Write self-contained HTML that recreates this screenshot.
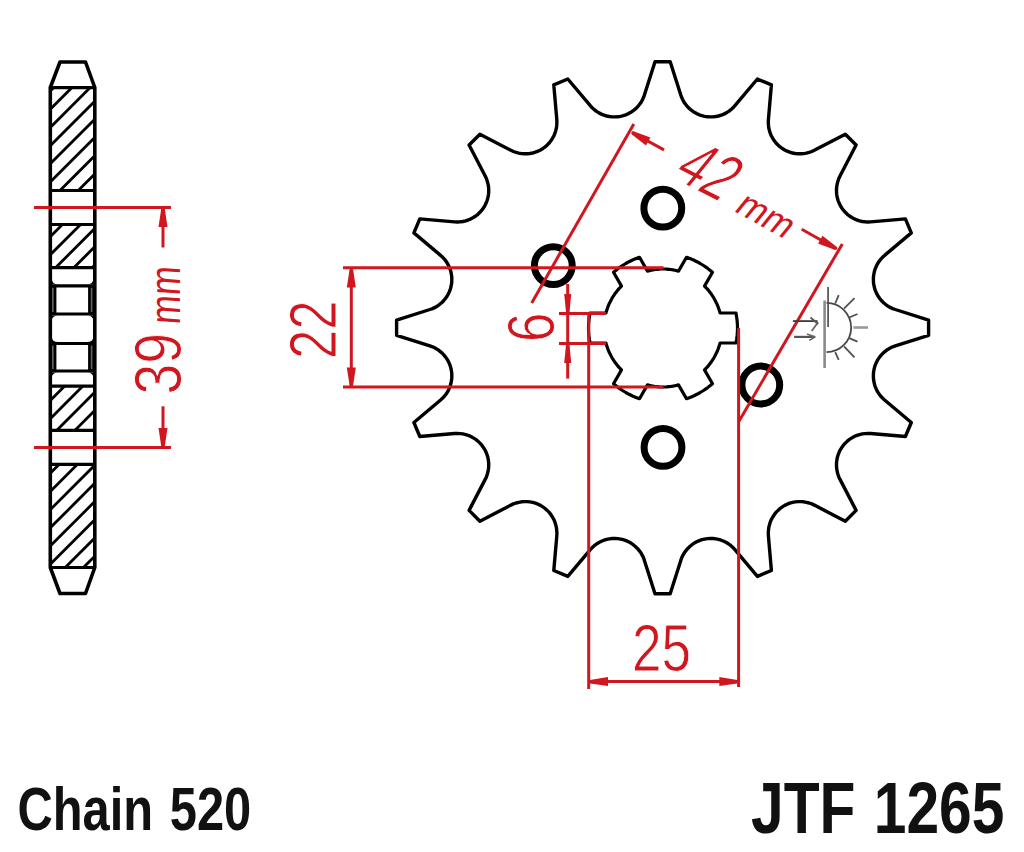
<!DOCTYPE html>
<html><head><meta charset="utf-8"><style>
html,body{margin:0;padding:0;background:#fff;}
svg{display:block;font-family:"Liberation Sans",sans-serif;}
</style></head><body>
<svg width="1024" height="852" viewBox="0 0 1024 852">
<defs><clipPath id="hc0"><rect x="50.3" y="87.6" width="44.5" height="102.9"/></clipPath><clipPath id="hc1"><rect x="50.3" y="224.5" width="44.5" height="43.10000000000002"/></clipPath><clipPath id="hc2"><rect x="50.3" y="386.2" width="44.5" height="44.10000000000002"/></clipPath><clipPath id="hc3"><rect x="50.3" y="464.4" width="44.5" height="103.10000000000002"/></clipPath></defs>
<rect width="1024" height="852" fill="#fff"/>
<path d="M50.3 87.5 L60 62 L85.5 62 L94.8 87.5 L94.8 567.5 L85.5 593.5 L60 593.5 L50.3 567.5 Z" fill="none" stroke="#000" stroke-width="3.6" stroke-linejoin="round"/><line x1="50.3" y1="87.6" x2="94.8" y2="87.6" stroke="#000" stroke-width="3.2"/><line x1="50.3" y1="190.5" x2="94.8" y2="190.5" stroke="#000" stroke-width="3.2"/><line x1="50.3" y1="224.5" x2="94.8" y2="224.5" stroke="#000" stroke-width="3.2"/><line x1="50.3" y1="267.6" x2="94.8" y2="267.6" stroke="#000" stroke-width="3.2"/><line x1="50.3" y1="285.8" x2="94.8" y2="285.8" stroke="#000" stroke-width="3.2"/><line x1="50.3" y1="314" x2="94.8" y2="314" stroke="#000" stroke-width="3.2"/><line x1="50.3" y1="343.5" x2="94.8" y2="343.5" stroke="#000" stroke-width="3.2"/><line x1="50.3" y1="371" x2="94.8" y2="371" stroke="#000" stroke-width="3.2"/><line x1="50.3" y1="386.2" x2="94.8" y2="386.2" stroke="#000" stroke-width="3.2"/><line x1="50.3" y1="430.3" x2="94.8" y2="430.3" stroke="#000" stroke-width="3.2"/><line x1="50.3" y1="464.4" x2="94.8" y2="464.4" stroke="#000" stroke-width="3.2"/><line x1="50.3" y1="567.5" x2="94.8" y2="567.5" stroke="#000" stroke-width="3.2"/><rect x="50.3" y="285.8" width="6.1" height="28.2" fill="#000"/><rect x="88.1" y="285.8" width="6.7" height="28.2" fill="#000"/><line x1="52.8" y1="287.8" x2="52.8" y2="312" stroke="#666" stroke-width="1.6"/><line x1="91.6" y1="287.8" x2="91.6" y2="312" stroke="#666" stroke-width="1.6"/><rect x="50.3" y="343.5" width="6.1" height="27.5" fill="#000"/><rect x="88.1" y="343.5" width="6.7" height="27.5" fill="#000"/><line x1="52.8" y1="345.5" x2="52.8" y2="369" stroke="#666" stroke-width="1.6"/><line x1="91.6" y1="345.5" x2="91.6" y2="369" stroke="#666" stroke-width="1.6"/><g clip-path="url(#hc0)" stroke="#000" stroke-width="2.8"><line x1="45.3" y1="96.0" x2="99.8" y2="41.5"/><line x1="45.3" y1="114.2" x2="99.8" y2="59.7"/><line x1="45.3" y1="132.4" x2="99.8" y2="77.9"/><line x1="45.3" y1="150.6" x2="99.8" y2="96.1"/><line x1="45.3" y1="168.8" x2="99.8" y2="114.3"/><line x1="45.3" y1="187.0" x2="99.8" y2="132.5"/><line x1="45.3" y1="205.2" x2="99.8" y2="150.7"/><line x1="45.3" y1="223.4" x2="99.8" y2="168.9"/><line x1="45.3" y1="241.6" x2="99.8" y2="187.1"/></g><g clip-path="url(#hc1)" stroke="#000" stroke-width="2.8"><line x1="45.3" y1="241.6" x2="99.8" y2="187.1"/><line x1="45.3" y1="259.8" x2="99.8" y2="205.3"/><line x1="45.3" y1="278.0" x2="99.8" y2="223.5"/><line x1="45.3" y1="296.2" x2="99.8" y2="241.7"/><line x1="45.3" y1="314.4" x2="99.8" y2="259.9"/></g><g clip-path="url(#hc2)" stroke="#000" stroke-width="2.8"><line x1="45.3" y1="387.2" x2="99.8" y2="332.7"/><line x1="45.3" y1="405.4" x2="99.8" y2="350.9"/><line x1="45.3" y1="423.6" x2="99.8" y2="369.1"/><line x1="45.3" y1="441.8" x2="99.8" y2="387.3"/><line x1="45.3" y1="460.0" x2="99.8" y2="405.5"/><line x1="45.3" y1="478.2" x2="99.8" y2="423.7"/></g><g clip-path="url(#hc3)" stroke="#000" stroke-width="2.8"><line x1="45.3" y1="478.2" x2="99.8" y2="423.7"/><line x1="45.3" y1="496.4" x2="99.8" y2="441.9"/><line x1="45.3" y1="514.6" x2="99.8" y2="460.1"/><line x1="45.3" y1="532.8" x2="99.8" y2="478.3"/><line x1="45.3" y1="551.0" x2="99.8" y2="496.5"/><line x1="45.3" y1="569.2" x2="99.8" y2="514.7"/><line x1="45.3" y1="587.4" x2="99.8" y2="532.9"/><line x1="45.3" y1="605.6" x2="99.8" y2="551.1"/></g><path d="M51.8 284.3 L58.3 284.3 Q51.8 284.3 51.8 278.8 Z" fill="#000"/><path d="M93.3 284.3 L86.8 284.3 Q93.3 284.3 93.3 278.8 Z" fill="#000"/><path d="M51.8 315.5 L58.3 315.5 Q51.8 315.5 51.8 321.0 Z" fill="#000"/><path d="M93.3 315.5 L86.8 315.5 Q93.3 315.5 93.3 321.0 Z" fill="#000"/><path d="M51.8 342.0 L58.3 342.0 Q51.8 342.0 51.8 336.5 Z" fill="#000"/><path d="M93.3 342.0 L86.8 342.0 Q93.3 342.0 93.3 336.5 Z" fill="#000"/><path d="M51.8 372.5 L58.3 372.5 Q51.8 372.5 51.8 378.0 Z" fill="#000"/><path d="M93.3 372.5 L86.8 372.5 Q93.3 372.5 93.3 378.0 Z" fill="#000"/>
<line x1="34" y1="207.6" x2="171" y2="207.6" stroke="#d0161e" stroke-width="3"/>
<line x1="34" y1="447.6" x2="171" y2="447.6" stroke="#d0161e" stroke-width="3"/>
<line x1="163" y1="207.6" x2="163" y2="247.5" stroke="#d0161e" stroke-width="3"/>
<line x1="163" y1="406.3" x2="163" y2="447.6" stroke="#d0161e" stroke-width="3"/>
<path d="M161.2 209.0 L158.5 227.0 L167.5 227.0 L164.8 209.0 Z" fill="#d0161e"/>
<path d="M164.8 446.0 L167.5 428.0 L158.5 428.0 L161.2 446.0 Z" fill="#d0161e"/>
<text transform="translate(180.5 394.5) rotate(-90) scale(0.84 1)" font-size="66" fill="#d0161e" stroke="#fff" stroke-width="0.9">39</text>
<text transform="translate(180 325) rotate(-90) scale(0.81 1) skewX(-5)" font-size="43" fill="#d0161e">mm</text>
<path d="M655.0 61.7 L670.2 61.7 L680.8 95.0 L681.7 97.6 L682.9 100.1 L684.3 102.6 L686.0 104.8 L687.8 107.0 L689.8 108.9 L692.0 110.7 L694.3 112.3 L696.7 113.6 L699.3 114.8 L701.9 115.7 L704.6 116.3 L707.4 116.8 L710.2 116.9 L713.0 116.9 L715.8 116.5 L718.5 116.0 L721.2 115.2 L723.8 114.1 L726.3 112.9 L728.7 111.4 L730.9 109.7 L733.0 107.8 L734.9 105.7 L757.4 79.0 L771.4 84.9 L768.4 119.6 L768.3 122.4 L768.5 125.2 L768.8 128.0 L769.5 130.7 L770.3 133.4 L771.4 136.0 L772.8 138.4 L774.3 140.8 L776.0 143.0 L778.0 145.0 L780.1 146.9 L782.3 148.5 L784.7 150.0 L787.2 151.2 L789.8 152.2 L792.5 153.0 L795.3 153.5 L798.1 153.8 L800.9 153.8 L803.7 153.6 L806.4 153.1 L809.1 152.4 L811.8 151.5 L814.3 150.3 L845.3 134.2 L856.1 145.0 L840.0 176.0 L838.8 178.5 L837.9 181.2 L837.2 183.9 L836.7 186.6 L836.5 189.4 L836.5 192.2 L836.8 195.0 L837.3 197.8 L838.1 200.5 L839.1 203.1 L840.3 205.6 L841.8 208.0 L843.4 210.2 L845.3 212.3 L847.3 214.3 L849.5 216.0 L851.9 217.5 L854.3 218.9 L856.9 220.0 L859.6 220.8 L862.3 221.5 L865.1 221.8 L867.9 222.0 L870.7 221.9 L905.4 218.9 L911.3 232.9 L884.6 255.4 L882.5 257.3 L880.6 259.4 L878.9 261.6 L877.4 264.0 L876.2 266.5 L875.1 269.1 L874.3 271.8 L873.8 274.5 L873.4 277.3 L873.4 280.1 L873.5 282.9 L874.0 285.7 L874.6 288.4 L875.5 291.0 L876.7 293.6 L878.0 296.0 L879.6 298.3 L881.4 300.5 L883.3 302.5 L885.5 304.3 L887.7 306.0 L890.2 307.4 L892.7 308.6 L895.3 309.5 L928.6 320.1 L928.6 335.3 L895.3 345.9 L892.7 346.8 L890.2 348.0 L887.7 349.4 L885.5 351.1 L883.3 352.9 L881.4 354.9 L879.6 357.1 L878.0 359.4 L876.7 361.8 L875.5 364.4 L874.6 367.0 L874.0 369.7 L873.5 372.5 L873.4 375.3 L873.4 378.1 L873.8 380.9 L874.3 383.6 L875.1 386.3 L876.2 388.9 L877.4 391.4 L878.9 393.8 L880.6 396.0 L882.5 398.1 L884.6 400.0 L911.3 422.5 L905.4 436.5 L870.7 433.5 L867.9 433.4 L865.1 433.6 L862.3 433.9 L859.6 434.6 L856.9 435.4 L854.3 436.5 L851.9 437.9 L849.5 439.4 L847.3 441.1 L845.3 443.1 L843.4 445.2 L841.8 447.4 L840.3 449.8 L839.1 452.3 L838.1 454.9 L837.3 457.6 L836.8 460.4 L836.5 463.2 L836.5 466.0 L836.7 468.8 L837.2 471.5 L837.9 474.2 L838.8 476.9 L840.0 479.4 L856.1 510.4 L845.3 521.2 L814.3 505.1 L811.8 503.9 L809.1 503.0 L806.4 502.3 L803.7 501.8 L800.9 501.6 L798.1 501.6 L795.3 501.9 L792.5 502.4 L789.8 503.2 L787.2 504.2 L784.7 505.4 L782.3 506.9 L780.1 508.5 L778.0 510.4 L776.0 512.4 L774.3 514.6 L772.8 517.0 L771.4 519.4 L770.3 522.0 L769.5 524.7 L768.8 527.4 L768.5 530.2 L768.3 533.0 L768.4 535.8 L771.4 570.5 L757.4 576.4 L734.9 549.7 L733.0 547.6 L730.9 545.7 L728.7 544.0 L726.3 542.5 L723.8 541.3 L721.2 540.2 L718.5 539.4 L715.8 538.9 L713.0 538.5 L710.2 538.5 L707.4 538.6 L704.6 539.1 L701.9 539.7 L699.3 540.6 L696.7 541.8 L694.3 543.1 L692.0 544.7 L689.8 546.5 L687.8 548.4 L686.0 550.6 L684.3 552.8 L682.9 555.3 L681.7 557.8 L680.8 560.4 L670.2 593.7 L655.0 593.7 L644.4 560.4 L643.5 557.8 L642.3 555.3 L640.9 552.8 L639.2 550.6 L637.4 548.4 L635.4 546.5 L633.2 544.7 L630.9 543.1 L628.5 541.8 L625.9 540.6 L623.3 539.7 L620.6 539.1 L617.8 538.6 L615.0 538.5 L612.2 538.5 L609.4 538.9 L606.7 539.4 L604.0 540.2 L601.4 541.3 L598.9 542.5 L596.5 544.0 L594.3 545.7 L592.2 547.6 L590.3 549.7 L567.8 576.4 L553.8 570.5 L556.8 535.8 L556.9 533.0 L556.7 530.2 L556.4 527.4 L555.7 524.7 L554.9 522.0 L553.8 519.4 L552.4 517.0 L550.9 514.6 L549.2 512.4 L547.2 510.4 L545.1 508.5 L542.9 506.9 L540.5 505.4 L538.0 504.2 L535.4 503.2 L532.7 502.4 L529.9 501.9 L527.1 501.6 L524.3 501.6 L521.5 501.8 L518.8 502.3 L516.1 503.0 L513.4 503.9 L510.9 505.1 L479.9 521.2 L469.1 510.4 L485.2 479.4 L486.4 476.9 L487.3 474.2 L488.0 471.5 L488.5 468.8 L488.7 466.0 L488.7 463.2 L488.4 460.4 L487.9 457.6 L487.1 454.9 L486.1 452.3 L484.9 449.8 L483.4 447.4 L481.8 445.2 L479.9 443.1 L477.9 441.1 L475.7 439.4 L473.3 437.9 L470.9 436.5 L468.3 435.4 L465.6 434.6 L462.9 433.9 L460.1 433.6 L457.3 433.4 L454.5 433.5 L419.8 436.5 L413.9 422.5 L440.6 400.0 L442.7 398.1 L444.6 396.0 L446.3 393.8 L447.8 391.4 L449.0 388.9 L450.1 386.3 L450.9 383.6 L451.4 380.9 L451.8 378.1 L451.8 375.3 L451.7 372.5 L451.2 369.7 L450.6 367.0 L449.7 364.4 L448.5 361.8 L447.2 359.4 L445.6 357.1 L443.8 354.9 L441.9 352.9 L439.7 351.1 L437.5 349.4 L435.0 348.0 L432.5 346.8 L429.9 345.9 L396.6 335.3 L396.6 320.1 L429.9 309.5 L432.5 308.6 L435.0 307.4 L437.5 306.0 L439.7 304.3 L441.9 302.5 L443.8 300.5 L445.6 298.3 L447.2 296.0 L448.5 293.6 L449.7 291.0 L450.6 288.4 L451.2 285.7 L451.7 282.9 L451.8 280.1 L451.8 277.3 L451.4 274.5 L450.9 271.8 L450.1 269.1 L449.0 266.5 L447.8 264.0 L446.3 261.6 L444.6 259.4 L442.7 257.3 L440.6 255.4 L413.9 232.9 L419.8 218.9 L454.5 221.9 L457.3 222.0 L460.1 221.8 L462.9 221.5 L465.6 220.8 L468.3 220.0 L470.9 218.9 L473.3 217.5 L475.7 216.0 L477.9 214.3 L479.9 212.3 L481.8 210.2 L483.4 208.0 L484.9 205.6 L486.1 203.1 L487.1 200.5 L487.9 197.8 L488.4 195.0 L488.7 192.2 L488.7 189.4 L488.5 186.6 L488.0 183.9 L487.3 181.2 L486.4 178.5 L485.2 176.0 L469.1 145.0 L479.9 134.2 L510.9 150.3 L513.4 151.5 L516.1 152.4 L518.8 153.1 L521.5 153.6 L524.3 153.8 L527.1 153.8 L529.9 153.5 L532.7 153.0 L535.4 152.2 L538.0 151.2 L540.5 150.0 L542.9 148.5 L545.1 146.9 L547.2 145.0 L549.2 143.0 L550.9 140.8 L552.4 138.4 L553.8 136.0 L554.9 133.4 L555.7 130.7 L556.4 128.0 L556.7 125.2 L556.9 122.4 L556.8 119.6 L553.8 84.9 L567.8 79.0 L590.3 105.7 L592.2 107.8 L594.3 109.7 L596.5 111.4 L598.9 112.9 L601.4 114.1 L604.0 115.2 L606.7 116.0 L609.4 116.5 L612.2 116.9 L615.0 116.9 L617.8 116.8 L620.6 116.3 L623.3 115.7 L625.9 114.8 L628.5 113.6 L630.9 112.3 L633.2 110.7 L635.4 108.9 L637.4 107.0 L639.2 104.8 L640.9 102.6 L642.3 100.1 L643.5 97.6 L644.4 95.0 Z" fill="none" stroke="#000" stroke-width="3.4" stroke-linejoin="round"/>
<path d="M720.1 313.0 L736.0 313.0 L736.6 316.7 L737.1 320.5 L737.4 324.2 L737.5 328.0 L737.4 331.8 L737.1 335.5 L736.6 339.3 L736.0 343.0 L720.1 343.0 L719.5 344.9 L718.9 346.8 L718.3 348.6 L717.6 350.4 L716.8 352.3 L715.9 354.0 L715.0 355.8 L714.1 357.5 L713.1 359.2 L712.0 360.8 L710.9 362.5 L709.7 364.0 L708.5 365.6 L707.2 367.1 L705.9 368.5 L704.5 369.9 L712.5 383.7 L709.6 386.1 L706.6 388.4 L703.5 390.5 L700.2 392.5 L696.9 394.3 L693.5 396.0 L690.0 397.4 L686.5 398.7 L678.5 384.9 L676.6 385.4 L674.7 385.8 L672.8 386.2 L670.8 386.5 L668.9 386.7 L666.9 386.9 L665.0 387.0 L663.0 387.0 L661.0 387.0 L659.1 386.9 L657.1 386.7 L655.2 386.5 L653.2 386.2 L651.3 385.8 L649.4 385.4 L647.5 384.9 L639.5 398.7 L636.0 397.4 L632.5 396.0 L629.1 394.3 L625.8 392.5 L622.5 390.5 L619.4 388.4 L616.4 386.1 L613.5 383.7 L621.5 369.9 L620.1 368.5 L618.8 367.1 L617.5 365.6 L616.3 364.0 L615.1 362.5 L614.0 360.8 L612.9 359.2 L611.9 357.5 L611.0 355.8 L610.1 354.0 L609.2 352.3 L608.4 350.4 L607.7 348.6 L607.1 346.8 L606.5 344.9 L605.9 343.0 L590.0 343.0 L589.4 339.3 L588.9 335.5 L588.6 331.8 L588.5 328.0 L588.6 324.2 L588.9 320.5 L589.4 316.7 L590.0 313.0 L605.9 313.0 L606.5 311.1 L607.1 309.2 L607.7 307.4 L608.4 305.6 L609.2 303.7 L610.1 302.0 L611.0 300.2 L611.9 298.5 L612.9 296.8 L614.0 295.2 L615.1 293.5 L616.3 292.0 L617.5 290.4 L618.8 288.9 L620.1 287.5 L621.5 286.1 L613.5 272.3 L616.4 269.9 L619.4 267.6 L622.5 265.5 L625.8 263.5 L629.1 261.7 L632.5 260.0 L636.0 258.6 L639.5 257.3 L647.5 271.1 L649.4 270.6 L651.3 270.2 L653.2 269.8 L655.2 269.5 L657.1 269.3 L659.1 269.1 L661.0 269.0 L663.0 269.0 L665.0 269.0 L666.9 269.1 L668.9 269.3 L670.8 269.5 L672.8 269.8 L674.7 270.2 L676.6 270.6 L678.5 271.1 L686.5 257.3 L690.0 258.6 L693.5 260.0 L696.9 261.7 L700.2 263.5 L703.5 265.5 L706.6 267.6 L709.6 269.9 L712.5 272.3 L704.5 286.1 L705.9 287.5 L707.2 288.9 L708.5 290.4 L709.7 292.0 L710.9 293.5 L712.0 295.2 L713.1 296.8 L714.1 298.5 L715.0 300.2 L715.9 302.0 L716.8 303.7 L717.6 305.6 L718.3 307.4 L718.9 309.2 L719.5 311.1 Z" fill="none" stroke="#000" stroke-width="3.2" stroke-linejoin="round"/>
<circle cx="662.8" cy="208.2" r="18.9" fill="none" stroke="#000" stroke-width="7"/>
<circle cx="663" cy="447.4" r="18.9" fill="none" stroke="#000" stroke-width="7"/>
<circle cx="553.3" cy="265.6" r="18.9" fill="none" stroke="#000" stroke-width="7"/>
<circle cx="760.8" cy="385" r="18.9" fill="none" stroke="#000" stroke-width="7"/>
<line x1="343" y1="267.8" x2="663.5" y2="267.8" stroke="#d0161e" stroke-width="3"/>
<line x1="343" y1="387" x2="663.5" y2="387" stroke="#d0161e" stroke-width="3"/>
<line x1="351.3" y1="268" x2="351.3" y2="387" stroke="#d0161e" stroke-width="3"/>
<path d="M349.6 269.5 L346.8 287.5 L355.8 287.5 L353.1 269.5 Z" fill="#d0161e"/>
<path d="M353.1 385.5 L355.8 367.5 L346.8 367.5 L349.6 385.5 Z" fill="#d0161e"/>
<text transform="translate(336 359) rotate(-90) scale(0.80 1)" font-size="66" fill="#d0161e" stroke="#fff" stroke-width="0.9">22</text>
<line x1="559" y1="313.4" x2="606" y2="313.4" stroke="#d0161e" stroke-width="3"/>
<line x1="559" y1="343.4" x2="606" y2="343.4" stroke="#d0161e" stroke-width="3"/>
<line x1="567.7" y1="284" x2="567.7" y2="378.6" stroke="#d0161e" stroke-width="3"/>
<path d="M569.5 312.0 L571.2 294.0 L564.2 294.0 L566.0 312.0 Z" fill="#d0161e"/>
<path d="M566.0 345.0 L564.2 363.0 L571.2 363.0 L569.5 345.0 Z" fill="#d0161e"/>
<text transform="translate(553.5 342) rotate(-90) scale(0.80 1)" font-size="66" fill="#d0161e" stroke="#fff" stroke-width="0.9">6</text>
<line x1="588.7" y1="314" x2="588.7" y2="689" stroke="#d0161e" stroke-width="3"/>
<line x1="738.6" y1="328" x2="738.6" y2="687" stroke="#d0161e" stroke-width="3"/>
<line x1="588.7" y1="681.6" x2="738.6" y2="681.6" stroke="#d0161e" stroke-width="3"/>
<path d="M590.0 683.4 L608.0 686.1 L608.0 677.1 L590.0 679.9 Z" fill="#d0161e"/>
<path d="M737.3 679.9 L719.3 677.1 L719.3 686.1 L737.3 683.4 Z" fill="#d0161e"/>
<text transform="translate(632 671) scale(0.805 1)" font-size="66" fill="#d0161e" stroke="#fff" stroke-width="0.9">25</text>
<line x1="633.8" y1="124.1" x2="531.7" y2="302.9" stroke="#d0161e" stroke-width="3"/>
<line x1="842.3" y1="244" x2="739" y2="421.3" stroke="#d0161e" stroke-width="3"/>
<line x1="631.7" y1="132.3" x2="664" y2="149.9" stroke="#d0161e" stroke-width="3"/>
<line x1="801.7" y1="229.3" x2="836.9" y2="249" stroke="#d0161e" stroke-width="3"/>
<path d="M631.6 134.2 L646.0 145.5 L650.4 137.6 L633.4 131.2 Z" fill="#d0161e"/>
<path d="M836.9 247.0 L822.5 235.7 L818.1 243.6 L835.1 250.0 Z" fill="#d0161e"/>
<text transform="translate(670.5 177) rotate(27) skewX(-12) scale(0.73 1)" font-size="68" fill="#d0161e" stroke="#fff" stroke-width="0.9">42</text>
<text transform="translate(733 210.5) rotate(29) skewX(-10) scale(0.95 1)" font-size="37" fill="#d0161e">mm</text>
<line x1="824.6" y1="300.5" x2="824.6" y2="368.0" stroke="#8a8a8a" stroke-width="2.6"/><line x1="828.1" y1="287.0" x2="828.1" y2="326.9" stroke="#5a5a5a" stroke-width="1.8"/><path d="M826.5 302.9 A24.6 24.6 0 0 1 826.5 352.2" fill="none" stroke="#4a4a4a" stroke-width="1.8"/><line x1="835.2" y1="303.5" x2="838.7" y2="295.2" stroke="#505050" stroke-width="1.8"/><line x1="844.0" y1="308.7" x2="854.5" y2="298.2" stroke="#505050" stroke-width="1.8"/><line x1="849.2" y1="317.5" x2="857.5" y2="314.0" stroke="#505050" stroke-width="1.8"/><line x1="849.2" y1="338.1" x2="857.5" y2="341.6" stroke="#505050" stroke-width="1.8"/><line x1="844.0" y1="346.3" x2="854.5" y2="357.4" stroke="#505050" stroke-width="1.8"/><line x1="835.2" y1="352.2" x2="838.7" y2="359.8" stroke="#505050" stroke-width="1.8"/><line x1="853.4" y1="327.5" x2="868.0" y2="327.5" stroke="#9a9a9a" stroke-width="2.6"/><line x1="792.9" y1="321.1" x2="817.6" y2="321.1" stroke="#3a3a3a" stroke-width="1.8"/><line x1="810.5" y1="317.5" x2="818.1" y2="324.0" stroke="#555" stroke-width="1.8"/><line x1="818.1" y1="322.2" x2="811.7" y2="331.0" stroke="#666" stroke-width="1.8"/><line x1="794.1" y1="336.9" x2="815.2" y2="336.9" stroke="#555" stroke-width="2.2"/><line x1="807.0" y1="334.0" x2="815.2" y2="336.9" stroke="#666" stroke-width="1.6"/><line x1="815.2" y1="336.9" x2="809.3" y2="340.4" stroke="#666" stroke-width="1.6"/>
<text x="17.5" y="829.7" font-size="61" font-weight="bold" fill="#111" word-spacing="4" transform="translate(17.5 0) scale(0.8 1) translate(-17.5 0)">Chain 520</text>
<text x="751" y="833.2" font-size="72.5" font-weight="bold" fill="#111" word-spacing="2.5" transform="translate(751 0) scale(0.81 1) translate(-751 0)">JTF 1265</text>
</svg>
</body></html>
